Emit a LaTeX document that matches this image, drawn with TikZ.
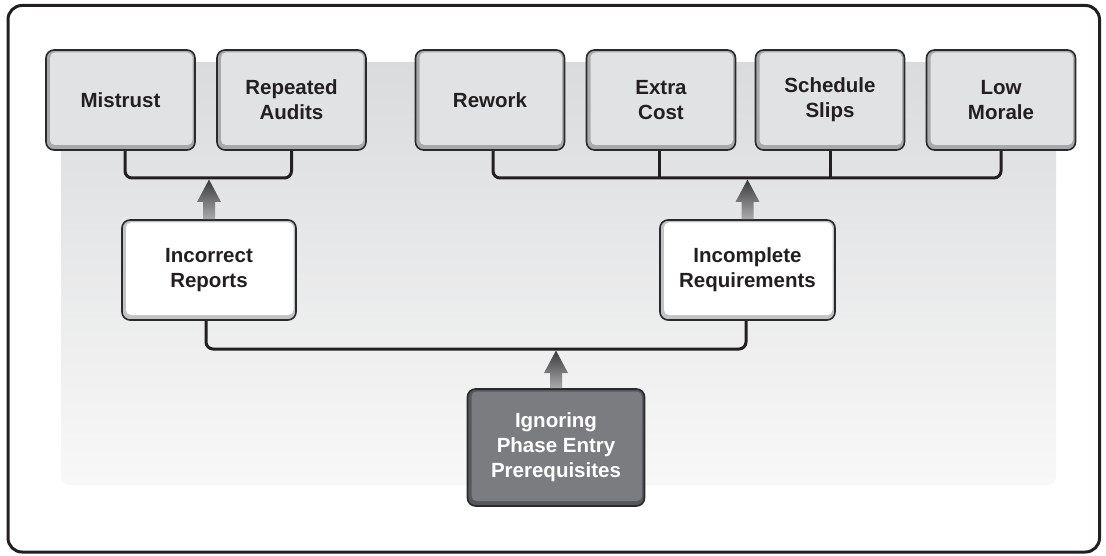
\documentclass[tikz,border=0pt]{standalone}
\usepackage{fontspec}
\setmainfont{Liberation Sans}
\usetikzlibrary{calc}

\definecolor{ink}{HTML}{231F20}
\definecolor{edge}{HTML}{2A2A2C}
\definecolor{panelTop}{HTML}{DADBDD}
\definecolor{panelBot}{HTML}{F8F8F8}
\definecolor{greyFace}{HTML}{E1E2E4}
\definecolor{greyRim}{HTML}{A8A9AB}
\definecolor{whiteFace}{HTML}{FFFFFF}
\definecolor{whiteRim}{HTML}{C2C3C5}
\definecolor{darkFace}{HTML}{7B7C7F}
\definecolor{darkRim}{HTML}{56575A}
\definecolor{riserTop}{HTML}{3A3A3C}
\definecolor{riserBot}{HTML}{ABABAD}

% raised arrow from a box up to the junction of a bracket
\newcommand\riser[2]{%
  \shade[top color=riserTop, bottom color=riserBot]
    ([xshift=-6pt]#1) -- ([xshift=-6pt,yshift=-24pt]#2)
    -- ([xshift=-12pt,yshift=-24pt]#2) -- ([yshift=-1.5pt]#2)
    -- ([xshift=12pt,yshift=-24pt]#2) -- ([xshift=6pt,yshift=-24pt]#2)
    -- ([xshift=6pt]#1) -- cycle;}

\tikzset{
  box/.style={rounded corners=8pt, draw=edge, line width=1.6pt,
    align=center, text=ink,
    font=\fontsize{20.5}{25}\selectfont\bfseries,
    path picture={
      \fill[#1Rim] (path picture bounding box.south west)
        rectangle (path picture bounding box.north east);
      \fill[#1Face, rounded corners=5pt]
        ([xshift=4pt,yshift=-2.5pt]path picture bounding box.north west)
        rectangle ([xshift=-2.5pt,yshift=5pt]path picture bounding box.south east);
    }},
  topbox/.style={box=grey, minimum width=149pt, minimum height=100pt},
  midbox/.style={box=white, minimum height=100pt},
  link/.style={draw=ink, line width=3pt, rounded corners=7pt},
}

\begin{document}
\begin{tikzpicture}[x=1pt, y=-1pt]
\useasboundingbox (0,0) rectangle (1106,556);

% outer frame and shaded backdrop
\draw[line width=3pt, rounded corners=14pt, draw=ink] (8,5.5) rectangle (1099.5,552);
\shade[top color=panelTop, bottom color=panelBot, rounded corners=8pt]
  (61,62) rectangle (1056,485);

% consequences
\node[topbox] (mis)  at (120.5,100) {Mistrust};
\node[topbox] (aud)  at (291.5,100) {Repeated\\Audits};
\node[topbox] (rew)  at (490,100)   {Rework};
\node[topbox] (cost) at (661,100)   {Extra\\Cost};
\node[topbox] (sch)  at (830,100)   {Schedule\\Slips};
\node[topbox] (mor)  at (1001,100)  {Low\\Morale};

% intermediate problems
\node[midbox, minimum width=174pt] (rep) at (209,270)   {Incorrect\\Reports};
\node[midbox, minimum width=175pt] (req) at (747.5,270) {Incomplete\\Requirements};

% root cause
\node[box=dark, minimum width=177pt, minimum height=117pt, text=white]
  (ign) at (556,447.5) {Ignoring\\Phase Entry\\Prerequisites};

% bracket junctions
\coordinate (jl) at (209,178);
\coordinate (jr) at (747.5,178);
\coordinate (jb) at (556,349);

% brackets
\draw[link] ([xshift=4.5pt]mis.south) |- (jl) -| (aud.south);
\draw[link] ([xshift=3pt]rew.south) |- (jr) -| (mor.south);
\draw[link] ([xshift=-2pt]cost.south) -- ++(0,28);
\draw[link] (sch.south) -- ++(0,28);
\draw[link] ([xshift=-3pt]rep.south) |- (jb) -| ([xshift=-1.5pt]req.south);

% risers
\riser{rep.north}{jl}
\riser{req.north}{jr}
\riser{ign.north}{jb}
\end{tikzpicture}
\end{document}
